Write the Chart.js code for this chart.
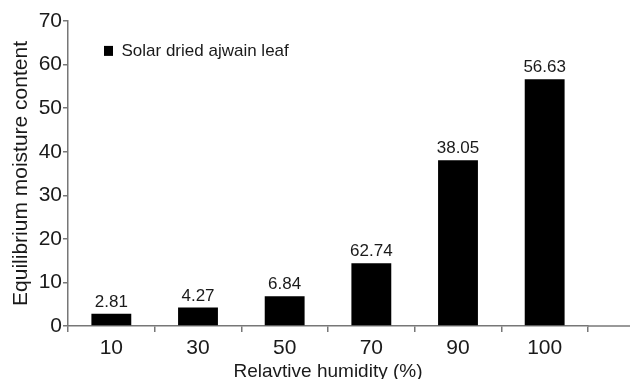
<!DOCTYPE html>
<html>
<head>
<meta charset="utf-8">
<script src="https://cdn.jsdelivr.net/npm/chart.js@4.4.0/dist/chart.umd.min.js"></script>
<style>
  html, body { margin: 0; padding: 0; background: #fff; }
  #wrap { width: 634px; height: 379px; }
</style>
</head>
<body>
<div id="wrap"><canvas id="myChart" width="634" height="379"></canvas></div>
<script>
var humidity = ['10', '30', '50', '70', '90', '100'];
var moisture = [2.81, 4.27, 6.84, 14.4, 38.05, 56.63];
var valueLabels = ['2.81', '4.27', '6.84', '62.74', '38.05', '56.63'];
var yTicks = [0, 10, 20, 30, 40, 50, 60, 70];

var axisGrey = '#777';
var textColor = '#1a1a1a';
var fontFamily = '"Liberation Sans", Arial, sans-serif';

// numbers printed over each bar
var barLabels = {
  id: 'barLabels',
  afterDatasetsDraw: function(chart) {
    var ctx = chart.ctx;
    var meta = chart.getDatasetMeta(0);
    ctx.save();
    ctx.font = '17px ' + fontFamily;
    ctx.fillStyle = textColor;
    ctx.textAlign = 'center';
    ctx.textBaseline = 'bottom';
    meta.data.forEach(function(bar, i) {
      ctx.fillText(valueLabels[i], bar.x, bar.y - 3);
    });
    ctx.restore();
  }
};

// the x axis line runs on a little past the last category
var axisTail = {
  id: 'axisTail',
  afterDraw: function(chart) {
    var a = chart.chartArea;
    var ctx = chart.ctx;
    ctx.save();
    ctx.strokeStyle = axisGrey;
    ctx.lineWidth = 1.5;
    ctx.beginPath();
    ctx.moveTo(a.right, a.bottom);
    ctx.lineTo(a.right + 42, a.bottom);
    ctx.stroke();
    ctx.restore();
  }
};

var ctx = document.getElementById('myChart').getContext('2d');
var myChart = new Chart(ctx, {
  type: 'bar',
  data: {
    labels: humidity,
    datasets: [{
      label: 'Solar dried ajwain leaf',
      data: moisture,
      backgroundColor: '#000',
      borderWidth: 0,
      barPercentage: 0.92,
      categoryPercentage: 0.5
    }]
  },
  options: {
    responsive: false,
    animation: false,
    layout: { padding: { top: 21, right: 46, left: 0, bottom: -4 } },
    plugins: {
      legend: {
        position: 'chartArea',
        align: 'start',
        title: {
          display: true,
          text: ' ',
          padding: 2,
          font: { size: 2 }
        },
        labels: {
          boxWidth: 9,
          boxHeight: 10,
          padding: 36,
          color: textColor,
          font: { family: fontFamily, size: 17 }
        }
      },
      tooltip: { enabled: false }
    },
    scales: {
      x: {
        grid: {
          drawOnChartArea: false,
          drawTicks: true,
          tickLength: 6,
          color: axisGrey,
          lineWidth: 1.5
        },
        border: { color: axisGrey, width: 1.5 },
        ticks: {
          color: textColor,
          padding: 4,
          font: { family: fontFamily, size: 21 }
        },
        title: {
          display: true,
          text: 'Relavtive humidity (%)',
          color: textColor,
          padding: { top: 0, bottom: 0 },
          font: { family: fontFamily, size: 19 }
        },
        afterFit: function(scale) { scale.height = 57; }
      },
      y: {
        min: 0,
        max: 70,
        afterBuildTicks: function(scale) {
          scale.ticks = yTicks.map(function(v) { return { value: v }; });
        },
        grid: {
          drawOnChartArea: false,
          drawTicks: true,
          tickLength: 5,
          color: axisGrey,
          lineWidth: 1.5
        },
        border: { color: axisGrey, width: 1.5 },
        ticks: {
          color: textColor,
          padding: 1,
          font: { family: fontFamily, size: 21 }
        },
        title: {
          display: true,
          text: 'Equilibrium moisture content',
          color: textColor,
          padding: { top: 9, bottom: 0 },
          font: { family: fontFamily, size: 21 }
        },
        afterFit: function(scale) { scale.width = 68; }
      }
    }
  },
  plugins: [barLabels, axisTail]
});
</script>
</body>
</html>
